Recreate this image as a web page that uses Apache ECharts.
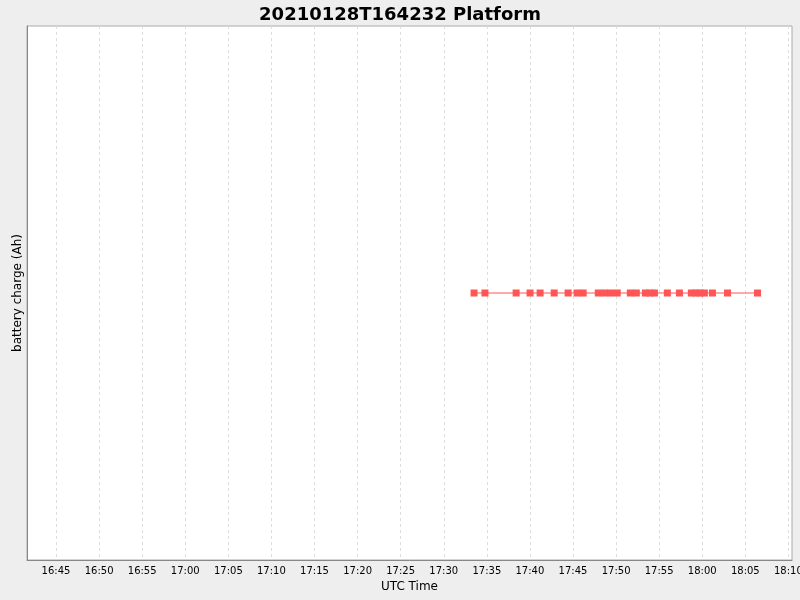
<!DOCTYPE html>
<html>
<head>
<meta charset="utf-8">
<script src="https://cdn.jsdelivr.net/npm/echarts@6/dist/echarts.min.js"></script>
<style>
  html, body { margin: 0; padding: 0; background: #eeeeee; }
  #chart { width: 800px; height: 600px; }
</style>
</head>
<body>
<div id="chart"></div>
<script>
// sample times (UTC, 2021-01-28) and battery charge readings
const times = [
  '17:33:31', '17:34:47', '17:38:24', '17:40:01', '17:41:11', '17:42:49',
  '17:44:26', '17:45:29', '17:46:11', '17:47:56', '17:48:41', '17:49:23',
  '17:50:08', '17:51:39', '17:52:21', '17:53:24', '17:53:55', '17:54:27',
  '17:55:57', '17:57:21', '17:58:44', '17:59:16', '17:59:44', '18:00:15',
  '18:01:11', '18:02:56', '18:06:25'
];
const charge = [
  0, 0, 0, 0, 0, 0, 0, 0, 0, 0, 0, 0, 0, 0,
  0, 0, 0, 0, 0, 0, 0, 0, 0, 0, 0, 0, 0
];
const tickLabels = [
  '16:45', '16:50', '16:55', '17:00', '17:05', '17:10', '17:15', '17:20',
  '17:25', '17:30', '17:35', '17:40', '17:45', '17:50', '17:55', '18:00',
  '18:05', '18:10'
];
const axisStart = '16:41:38';
const axisEnd = '18:10:25';

// seconds since midnight UTC
function secs(t) {
  const p = t.split(':').map(Number);
  return p[0] * 3600 + p[1] * 60 + (p[2] || 0);
}
function pad(n) { return n < 10 ? '0' + n : '' + n; }

const chart = echarts.init(document.getElementById('chart'));
const tickValues = tickLabels.map(secs);

const option = {
  backgroundColor: '#eeeeee',
  animation: false,
  title: {
    text: '20210128T164232 Platform',
    left: 'center',
    top: 1,
    textStyle: {
      fontFamily: 'DejaVu Sans',
      fontSize: 18,
      fontWeight: 'bold',
      color: '#000'
    }
  },
  grid: {
    left: 27,
    right: 8,
    top: 26,
    bottom: 40,
    outerBoundsMode: 'none',
    containLabel: false,
    show: true,
    backgroundColor: '#ffffff',
    borderColor: '#aaaaaa',
    borderWidth: 1
  },
  xAxis: {
    type: 'value',
    min: secs(axisStart),
    max: secs(axisEnd),
    name: 'UTC Time',
    nameLocation: 'middle',
    nameGap: 20,
    nameTextStyle: { fontFamily: 'DejaVu Sans', fontSize: 12, color: '#000' },
    axisLine: { show: true, onZero: false, lineStyle: { color: '#888888', width: 1 } },
    axisTick: { show: false, customValues: tickValues },
    axisLabel: {
      customValues: tickValues,
      fontFamily: 'DejaVu Sans',
      fontSize: 10,
      color: '#000',
      margin: 6,
      formatter: function (value) {
        const m = Math.round(value / 60);
        return pad(Math.floor(m / 60)) + ':' + pad(m % 60);
      }
    },
    splitLine: {
      show: true,
      lineStyle: { color: '#dddddd', type: [3, 3], width: 1 }
    }
  },
  yAxis: {
    type: 'value',
    min: -1,
    max: 1,
    name: 'battery charge (Ah)',
    nameLocation: 'middle',
    nameGap: 3,
    nameTextStyle: { fontFamily: 'DejaVu Sans', fontSize: 12, color: '#000' },
    axisLine: { show: true, onZero: false, lineStyle: { color: '#888888', width: 1 } },
    axisTick: { show: false },
    axisLabel: { show: false },
    splitLine: { show: false }
  },
  series: [{
    type: 'line',
    data: times.map((t, i) => [secs(t), charge[i]]),
    symbol: 'rect',
    symbolSize: 7,
    showAllSymbol: true,
    itemStyle: { color: '#ff5555' },
    lineStyle: { color: '#ff5555', width: 1 }
  }]
};

chart.setOption(option);
</script>
</body>
</html>
